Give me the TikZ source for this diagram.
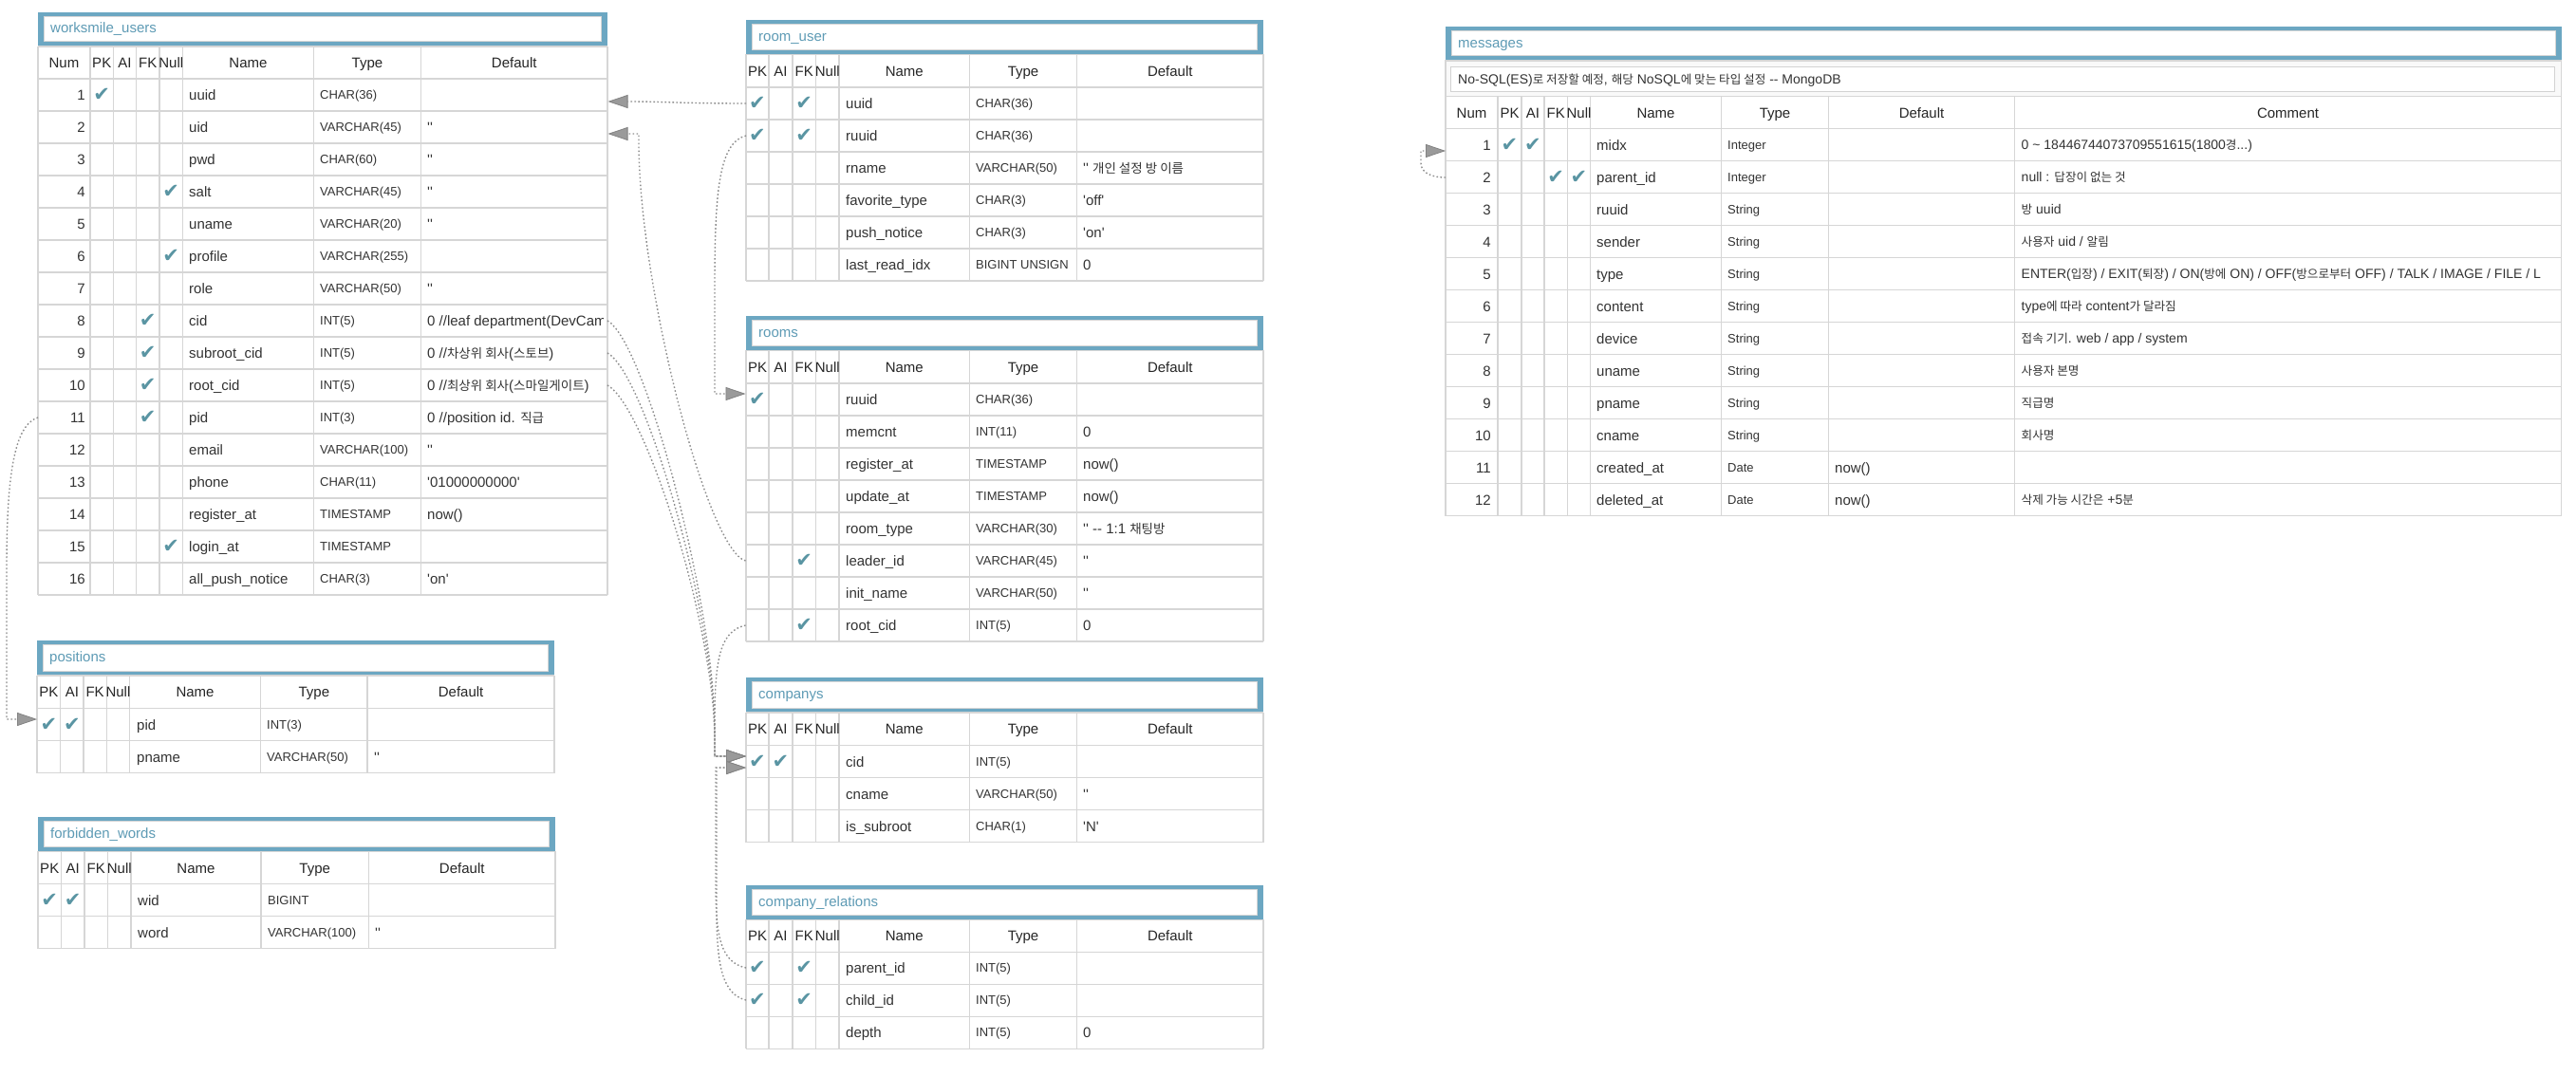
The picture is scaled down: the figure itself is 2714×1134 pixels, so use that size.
\documentclass[tikz,border=0pt]{standalone}
\usepackage{fontspec}
\newfontfamily\af{Liberation Sans}
\newfontfamily\kr{Noto Sans CJK KR}[Scale=0.9]
\newfontfamily\ckfont{DejaVu Sans}
\usetikzlibrary{arrows.meta}
\definecolor{tblue}{HTML}{6CA7C2}
\definecolor{ttxt}{HTML}{5E9BB5}
\definecolor{ckc}{HTML}{5A95A3}
\definecolor{txt}{HTML}{333333}
\definecolor{gridc}{HTML}{D6D6D6}
\definecolor{lnc}{HTML}{8E8E8E}
\definecolor{arrc}{HTML}{9A9A9A}
\newif\ifnumcol
\newif\ifcomcol
\newcommand\ck{\char"2714\relax}
\newcommand\qq{''}
\tikzset{
 cell/.style={font=\af\fontsize{15}{18}\selectfont, text=txt, inner sep=0pt, text height=11pt, text depth=0pt},
 ccell/.style={font=\af\fontsize{14}{17}\selectfont, text=txt, inner sep=0pt, text height=10.3pt, text depth=0pt},
 tcell/.style={font=\af\fontsize{13}{16}\selectfont, text=txt, inner sep=0pt, text height=9.3pt, text depth=0pt},
 hdr/.style={font=\af\fontsize{15}{18}\selectfont, text=black!85, inner sep=0pt, text height=11pt, text depth=0pt},
 chk/.style={font=\ckfont\fontsize{21}{21}\selectfont, text=ckc, inner sep=0pt},
 ttl/.style={font=\af\fontsize{15}{18}\selectfont, text=ttxt, inner sep=0pt, anchor=west, text height=11pt, text depth=3pt},
 gridl/.style={draw=gridc, line width=1.5pt},
 fk/.style={draw=lnc, line width=1.4pt, dash pattern=on 1.6pt off 2.4pt,
   -{Triangle[length=21pt,width=14pt,fill=arrc,color=arrc!85!black,line width=0.8pt]}},
}
\newcommand\tframe[6]{%
 \fill[tblue] (#2,#3) rectangle (#4,#5);
 \filldraw[fill=white, draw=gridc, line width=1pt] (#2+6,#3+4.5) rectangle (#4-6.5,#5-5);
 \node[ttl] (#1) at (#2+13,{(#3+#5)/2}) {#6};
}
\newcommand\tgrid[6]{%
 \foreach \xx in {#1} {\draw[gridl] (\xx,#2) -- (\xx,{#3+34*#4});}
 \draw[gridl] (#5,#2) -- (#6,#2);
 \foreach \i in {0,...,#4} {\draw[gridl] (#5,{#3+34*\i}) -- (#6,{#3+34*\i});}
}
\newcommand\thdr[3]{\foreach \hx/\htxt [count=\k] in {#3} {\node[hdr] (#1-h\k) at (\hx,#2) {\htxt};}}
\newcommand\erow[9]{%
  \pgfmathsetmacro\ym{\yH+34*(#1-1)+17}%
  \ifnumcol\node[cell,anchor=east] (\tp-num#1) at (\cNum,\ym) {#1};\fi
  \node[chk] (\tp-pk#1) at (\cPK,\ym) {#2};%
  \node[chk] (\tp-ai#1) at (\cAI,\ym) {#3};%
  \node[chk] (\tp-fk#1) at (\cFK,\ym) {#4};%
  \node[chk] (\tp-nl#1) at (\cNL,\ym) {#5};%
  \node[cell,anchor=west] (\tp-name#1) at (\cName,\ym) {#6};%
  \begin{scope}\clip (\cType-5,\ym-16) rectangle (\cTypeR,\ym+16);
    \node[tcell,anchor=west] (\tp-type#1) at (\cType,\ym) {#7};\end{scope}%
  \begin{scope}\clip (\cDef-5,\ym-16) rectangle (\cDefR,\ym+16);
    \node[cell,anchor=west] (\tp-def#1) at (\cDef,\ym) {#8};\end{scope}%
  \ifcomcol\begin{scope}\clip (\cCom-5,\ym-16) rectangle (\cComR,\ym+16);
    \node[ccell,anchor=west] (\tp-com#1) at (\cCom,\ym) {#9};\end{scope}\fi
}
\begin{document}
\begin{tikzpicture}[x=1pt,y=-1pt]
\useasboundingbox (0,0) rectangle (2714,1134);
\fill[white] (0,0) rectangle (2714,1134);

% ================= worksmile_users
\tframe{wu}{40}{13}{640}{49}{worksmile\_users}
\tgrid{40,95,119.5,143.5,168,192.5,330.5,443.5,640}{49}{83}{16}{40}{640}
\thdr{wu}{66}{67.5/Num,107.25/PK,131.5/AI,155.75/FK,180.25/Null,261.5/Name,387/Type,541.75/Default}
\def\tp{wu}\def\yH{83}\numcoltrue\comcolfalse
\def\cNum{90}\def\cPK{107.25}\def\cAI{131.5}\def\cFK{155.75}\def\cNL{180.25}
\def\cName{199}\def\cType{337}\def\cTypeR{438}\def\cDef{450}\def\cDefR{635}
\erow{1}{\ck}{}{}{}{uuid}{CHAR(36)}{}{}
\erow{2}{}{}{}{}{uid}{VARCHAR(45)}{\qq}{}
\erow{3}{}{}{}{}{pwd}{CHAR(60)}{\qq}{}
\erow{4}{}{}{}{\ck}{salt}{VARCHAR(45)}{\qq}{}
\erow{5}{}{}{}{}{uname}{VARCHAR(20)}{\qq}{}
\erow{6}{}{}{}{\ck}{profile}{VARCHAR(255)}{}{}
\erow{7}{}{}{}{}{role}{VARCHAR(50)}{\qq}{}
\erow{8}{}{}{\ck}{}{cid}{INT(5)}{0 //leaf department(DevCam}{}
\erow{9}{}{}{\ck}{}{subroot\_cid}{INT(5)}{0 //{\kr 차상위 회사}({\kr 스토브})}{}
\erow{10}{}{}{\ck}{}{root\_cid}{INT(5)}{0 //{\kr 최상위 회사}({\kr 스마일게이트})}{}
\erow{11}{}{}{\ck}{}{pid}{INT(3)}{0 //position id. {\kr 직급}}{}
\erow{12}{}{}{}{}{email}{VARCHAR(100)}{\qq}{}
\erow{13}{}{}{}{}{phone}{CHAR(11)}{'01000000000'}{}
\erow{14}{}{}{}{}{register\_at}{TIMESTAMP}{now()}{}
\erow{15}{}{}{}{\ck}{login\_at}{TIMESTAMP}{}{}
\erow{16}{}{}{}{}{all\_push\_notice}{CHAR(3)}{'on'}{}

% ================= positions
\tframe{po}{39}{675.3}{584}{712}{positions}
\tgrid{39,63.7,88,112.3,136.6,274.5,387.2,584}{712}{746.7}{2}{39}{584}
\thdr{po}{729.35}{51.35/PK,75.85/AI,100.15/FK,124.45/Null,205.55/Name,330.85/Type,485.6/Default}
\def\tp{po}\def\yH{746.7}\numcolfalse\comcolfalse
\def\cPK{51.35}\def\cAI{75.85}\def\cFK{100.15}\def\cNL{124.45}
\def\cName{144}\def\cType{281}\def\cTypeR{382}\def\cDef{394}\def\cDefR{579}
\erow{1}{\ck}{\ck}{}{}{pid}{INT(3)}{}{}
\erow{2}{}{}{}{}{pname}{VARCHAR(50)}{\qq}{}

% ================= forbidden_words
\tframe{fw}{40}{860.7}{585}{897.3}{forbidden\_words}
\tgrid{40,64.5,89,113.5,138,275,388.5,585}{897.3}{931.7}{2}{40}{585}
\thdr{fw}{914.5}{52.25/PK,76.75/AI,101.25/FK,125.75/Null,206.5/Name,331.75/Type,486.75/Default}
\def\tp{fw}\def\yH{931.7}\numcolfalse\comcolfalse
\def\cPK{52.25}\def\cAI{76.75}\def\cFK{101.25}\def\cNL{125.75}
\def\cName{145}\def\cType{282}\def\cTypeR{383}\def\cDef{395}\def\cDefR{580}
\erow{1}{\ck}{\ck}{}{}{wid}{BIGINT}{}{}
\erow{2}{}{}{}{}{word}{VARCHAR(100)}{\qq}{}

% ================= middle column settings
\def\cPK{798}\def\cAI{822.5}\def\cFK{847.25}\def\cNL{871.75}
\def\cName{891}\def\cType{1028}\def\cTypeR{1128.5}\def\cDef{1141}\def\cDefR{1325}
\numcolfalse\comcolfalse

% ================= room_user
\tframe{ru}{786}{21}{1331}{57.5}{room\_user}
\tgrid{786,810,835,859.5,884,1021.5,1134.5,1331}{57.5}{92}{6}{786}{1331}
\thdr{ru}{74.75}{798/PK,822.5/AI,847.25/FK,871.75/Null,952.75/Name,1078/Type,1232.75/Default}
\def\tp{ru}\def\yH{92}
\erow{1}{\ck}{}{\ck}{}{uuid}{CHAR(36)}{}{}
\erow{2}{\ck}{}{\ck}{}{ruuid}{CHAR(36)}{}{}
\erow{3}{}{}{}{}{rname}{VARCHAR(50)}{\qq{} {\kr 개인 설정 방 이름}}{}
\erow{4}{}{}{}{}{favorite\_type}{CHAR(3)}{'off'}{}
\erow{5}{}{}{}{}{push\_notice}{CHAR(3)}{'on'}{}
\erow{6}{}{}{}{}{last\_read\_idx}{BIGINT UNSIGN}{0}{}

% ================= rooms
\tframe{rm}{786}{333}{1331}{369.3}{rooms}
\tgrid{786,810,835,859.5,884,1021.5,1134.5,1331}{369.3}{404}{8}{786}{1331}
\thdr{rm}{386.65}{798/PK,822.5/AI,847.25/FK,871.75/Null,952.75/Name,1078/Type,1232.75/Default}
\def\tp{rm}\def\yH{404}
\erow{1}{\ck}{}{}{}{ruuid}{CHAR(36)}{}{}
\erow{2}{}{}{}{}{memcnt}{INT(11)}{0}{}
\erow{3}{}{}{}{}{register\_at}{TIMESTAMP}{now()}{}
\erow{4}{}{}{}{}{update\_at}{TIMESTAMP}{now()}{}
\erow{5}{}{}{}{}{room\_type}{VARCHAR(30)}{\qq{} -- 1:1 {\kr 채팅방}}{}
\erow{6}{}{}{\ck}{}{leader\_id}{VARCHAR(45)}{\qq}{}
\erow{7}{}{}{}{}{init\_name}{VARCHAR(50)}{\qq}{}
\erow{8}{}{}{\ck}{}{root\_cid}{INT(5)}{0}{}

% ================= companys
\tframe{co}{786}{714.3}{1331}{751}{companys}
\tgrid{786,810,835,859.5,884,1021.5,1134.5,1331}{751}{785.7}{3}{786}{1331}
\thdr{co}{768.35}{798/PK,822.5/AI,847.25/FK,871.75/Null,952.75/Name,1078/Type,1232.75/Default}
\def\tp{co}\def\yH{785.7}
\erow{1}{\ck}{\ck}{}{}{cid}{INT(5)}{}{}
\erow{2}{}{}{}{}{cname}{VARCHAR(50)}{\qq}{}
\erow{3}{}{}{}{}{is\_subroot}{CHAR(1)}{'N'}{}

% ================= company_relations
\tframe{cr}{786}{932.7}{1331}{969.3}{company\_relations}
\tgrid{786,810,835,859.5,884,1021.5,1134.5,1331}{969.3}{1003.3}{3}{786}{1331}
\thdr{cr}{986.3}{798/PK,822.5/AI,847.25/FK,871.75/Null,952.75/Name,1078/Type,1232.75/Default}
\def\tp{cr}\def\yH{1003.3}
\erow{1}{\ck}{}{\ck}{}{parent\_id}{INT(5)}{}{}
\erow{2}{\ck}{}{\ck}{}{child\_id}{INT(5)}{}{}
\erow{3}{}{}{}{}{depth}{INT(5)}{0}{}

% ================= messages
\tframe{ms}{1523}{28.3}{2698.5}{64}{messages}
\filldraw[fill=gray!5, draw=gridc, line width=1.5pt] (1523,64) rectangle (2698.5,101.7);
\filldraw[fill=white, draw=gray!35, line width=1pt] (1528.5,70.5) rectangle (2691,96.7);
\node[ccell, anchor=west] (ms-note) at (1536,83.6)
  {No-SQL(ES){\kr 로 저장할 예정}, {\kr 해당} NoSQL{\kr 에 맞는 타입 설정} -- MongoDB};
\tgrid{1523,1578,1603,1627,1651.5,1675.5,1813.5,1926.5,2122.5,2698.5}{101.7}{135.7}{12}{1523}{2698.5}
\thdr{ms}{118.7}{1550.5/Num,1590.5/PK,1615/AI,1639.25/FK,1663.5/Null,1744.5/Name,1870/Type,2024.5/Default,2410.5/Comment}
\def\tp{ms}\def\yH{135.7}\numcoltrue\comcoltrue
\def\cNum{1571}\def\cPK{1590.5}\def\cAI{1615}\def\cFK{1639.25}\def\cNL{1663.5}
\def\cName{1682}\def\cType{1820}\def\cTypeR{1921}\def\cDef{1933}\def\cDefR{2117}
\def\cCom{2129.5}\def\cComR{2694}
\erow{1}{\ck}{\ck}{}{}{midx}{Integer}{}{0 \textasciitilde{} 18446744073709551615(1800{\kr 경}...)}
\erow{2}{}{}{\ck}{\ck}{parent\_id}{Integer}{}{null : {\kr 답장이 없는 것}}
\erow{3}{}{}{}{}{ruuid}{String}{}{{\kr 방} uuid}
\erow{4}{}{}{}{}{sender}{String}{}{{\kr 사용자} uid / {\kr 알림}}
\erow{5}{}{}{}{}{type}{String}{}{ENTER({\kr 입장}) / EXIT({\kr 퇴장}) / ON({\kr 방에} ON) / OFF({\kr 방으로부터} OFF) / TALK / IMAGE / FILE / L}
\erow{6}{}{}{}{}{content}{String}{}{type{\kr 에 따라} content{\kr 가 달라짐}}
\erow{7}{}{}{}{}{device}{String}{}{{\kr 접속 기기}. web / app / system}
\erow{8}{}{}{}{}{uname}{String}{}{{\kr 사용자 본명}}
\erow{9}{}{}{}{}{pname}{String}{}{{\kr 직급명}}
\erow{10}{}{}{}{}{cname}{String}{}{{\kr 회사명}}
\erow{11}{}{}{}{}{created\_at}{Date}{now()}{}
\erow{12}{}{}{}{}{deleted\_at}{Date}{now()}{{\kr 삭제 가능 시간은} +5{\kr 분}}

% ================= connector end points
\coordinate (ru-uuid-w) at (786,109);
\coordinate (wu-uuid-e) at (640.5,107);
\coordinate (ru-ruuid-w) at (786,143);
\coordinate (rm-ruuid-w) at (785.5,415);
\coordinate (rm-leader-w) at (785.5,591);
\coordinate (wu-uid-e) at (640.5,141);
\coordinate (wu-cid-e) at (640,338);
\coordinate (wu-sub-e) at (640,372);
\coordinate (wu-root-e) at (640,406);
\coordinate (rm-rootcid-w) at (785.5,659);
\coordinate (co-cid-a) at (786,797);
\coordinate (co-cid-b) at (786,809);
\coordinate (cr-parent-w) at (786,1020);
\coordinate (cr-child-w) at (786,1054);
\coordinate (wu-pid-w) at (40,440);
\coordinate (po-pid-w) at (39,758);
\coordinate (ms-parent-w) at (1523,187);
\coordinate (ms-midx-w) at (1523,159);

% ================= connectors
\draw[fk] (ru-uuid-w) .. controls +(-70,0) and +(60,0) .. (wu-uuid-e);
\draw[fk] (ru-ruuid-w) .. controls (758,150) and (753,200) .. (753,300) |- (rm-ruuid-w);
\draw[fk] (rm-leader-w) .. controls (745,580) and (673,300) .. (673,150) |- (wu-uid-e);
\draw[fk] (wu-cid-e) .. controls (680,360) and (753,640) .. (753,770) |- (co-cid-a);
\draw[fk] (wu-sub-e) .. controls (680,394) and (753,650) .. (753,775) |- (co-cid-a);
\draw[fk] (wu-root-e) .. controls (680,428) and (753,660) .. (753,780) |- (co-cid-a);
\draw[fk] (rm-rootcid-w) .. controls (760,665) and (753,690) .. (753,760) |- (co-cid-a);
\draw[fk] (cr-parent-w) .. controls (760,1014) and (754,990) .. (754,930) |- (co-cid-b);
\draw[fk] (cr-child-w) .. controls (762,1048) and (755,1020) .. (755,960) |- (co-cid-b);
\draw[fk] (wu-pid-w) .. controls (15,448) and (7,500) .. (7,600) |- (po-pid-w);
\draw[fk] (ms-parent-w) .. controls (1505,187) and (1497,180) .. (1497,172) |- (ms-midx-w);
\end{tikzpicture}
\end{document}
